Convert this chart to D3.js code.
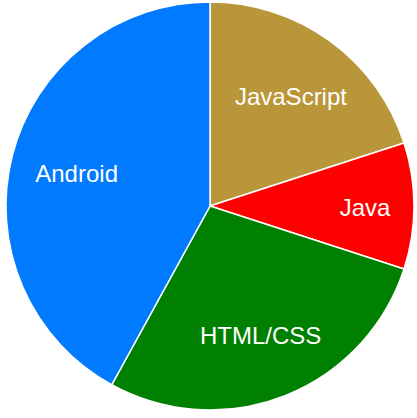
<!DOCTYPE html>
<html><head><meta charset="utf-8">
<script src="https://cdn.jsdelivr.net/npm/d3@7"></script>
<style>html,body{margin:0;padding:0;background:#fff;}</style>
</head><body>
<svg id="chart" width="417" height="418"></svg>
<script>
const categories = ["JavaScript", "Java", "HTML/CSS", "Android"];
const values = [20, 10, 28, 42];
const colors = ["#B9963A", "#FF0000", "#008000", "#007BFF"];

const svg = d3.select("#chart");
const cx = 210, cy = 206, R = 204;
const g = svg.append("g").attr("transform", `translate(${cx},${cy})`);
const data = categories.map((c, i) => ({ name: c, value: values[i], color: colors[i] }));
const pie = d3.pie().value(d => d.value).sort(null);
const arcs = pie(data);
const arc = d3.arc().innerRadius(0).outerRadius(R);
g.selectAll("path").data(arcs).join("path")
  .attr("d", arc).attr("fill", d => d.data.color)
  .attr("stroke", "#fff").attr("stroke-width", 1.5);
const labelArc = d => {
  const r = d.data.value <= 10 ? R * 0.76 : R * 0.675;
  return d3.arc().innerRadius(r).outerRadius(r).centroid(d);
};
g.selectAll("text").data(arcs).join("text")
  .attr("transform", d => { const p = labelArc(d); return `translate(${p[0]},${p[1] + 1.5})`; })
  .attr("text-anchor", "middle").attr("dominant-baseline", "central")
  .attr("fill", "#fff").attr("font-family", "Liberation Sans, Arial, sans-serif")
  .attr("font-size", 24)
  .text(d => d.data.name);
</script>
</body></html>
